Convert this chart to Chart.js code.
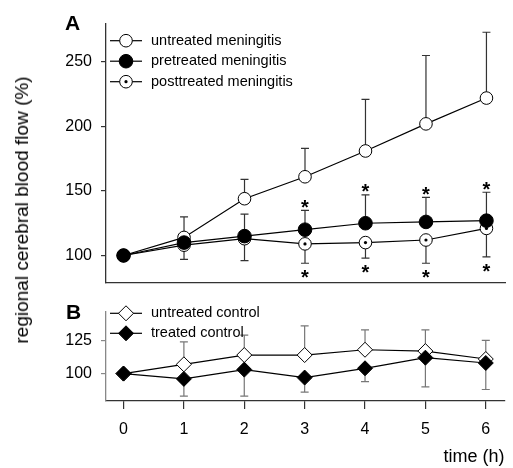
<!DOCTYPE html>
<html>
<head>
<meta charset="utf-8">
<script src="https://cdn.jsdelivr.net/npm/chart.js@4.4.1/dist/chart.umd.min.js"></script>
<style>
  body { margin: 0; background: #fff; }
  #wrap { position: relative; width: 513px; height: 468px; font-family: "Liberation Sans", Arial, sans-serif; color: #000; }
  #chartA { position: absolute; left: 0; top: 0; }
  #chartB { position: absolute; left: 0; top: 290px; }
  .panel { position: absolute; font-weight: bold; font-size: 21px; line-height: 21px; }
  #ytitle { position: absolute; left: 22px; top: 210px; font-size: 19px; white-space: nowrap;
            transform: translate(-50%, -50%) rotate(-90deg); }
</style>
</head>
<body>
<div id="wrap">
  <canvas id="chartA" width="513" height="290"></canvas>
  <canvas id="chartB" width="513" height="178"></canvas>
  <div class="panel" style="left:65px;top:12px;">A</div>
  <div class="panel" style="left:66px;top:301px;">B</div>
  <div id="ytitle">regional cerebral blood flow (%)</div>
</div>
<script>
// time points (h)
const hours = [0, 1, 2, 3, 4, 5, 6];

// panel A - meningitis groups (% of baseline)
const untreated = [100, 114, 144, 161, 181, 202, 222];
const untreatedErrHigh = [null, 130, 159, 183, 221, 255, 273];
const pretreated = [100, 110, 115, 120, 125, 126, 127];
const pretreatedErrHigh = [null, null, 132, 135, 147, 145, 149];
const posttreated = [100, 108, 113, 109, 110, 112, 121];
const posttreatedErrLow = [null, 97, 96, 94, 98, 94, 99];
const significant = [3, 4, 5, 6];

// panel B - controls
const untreatedControl = [100, 107, 114, 114, 118, 117, 111];
const untreatedControlErrHigh = [null, 124, 129, 136, 133, 133, 125];
const treatedControl = [100, 96, 103, 97, 104, 112, 108];
const treatedControlErrLow = [null, 83, 83, 86, 94, 90, 88];

const yTicksA = [100, 150, 200, 250];
const yTicksB = [100, 125];

Chart.defaults.font.family = "'Liberation Sans', Arial, sans-serif";
Chart.defaults.color = '#000';

function pts(values) {
    return values.map((v, i) => ({ x: hours[i], y: v }));
}

function drawMarker(ctx, shape, x, y, r, fill, dot) {
    ctx.save();
    ctx.beginPath();
    if (shape === 'diamond') {
        ctx.moveTo(x - r, y); ctx.lineTo(x, y - r); ctx.lineTo(x + r, y); ctx.lineTo(x, y + r); ctx.closePath();
    } else {
        ctx.arc(x, y, r, 0, Math.PI * 2);
    }
    ctx.fillStyle = fill;
    ctx.fill();
    ctx.lineWidth = 1;
    ctx.strokeStyle = '#000';
    ctx.stroke();
    if (dot) {
        ctx.beginPath();
        ctx.arc(x, y, 1.6, 0, Math.PI * 2);
        ctx.fillStyle = '#000';
        ctx.fill();
    }
    ctx.restore();
}

// error bars: one-sided, drawn under the markers
const errorBars = {
    id: 'errorBars',
    beforeDatasetsDraw(chart) {
        const ctx = chart.ctx, xs = chart.scales.x, ys = chart.scales.y;
        chart.data.datasets.forEach(ds => {
            if (!ds.errEnds) return;
            ctx.save();
            ctx.strokeStyle = ds.errColor;
            ctx.lineWidth = 1.2;
            ds.errEnds.forEach((e, i) => {
                if (e == null) return;
                const px = xs.getPixelForValue(ds.data[i].x);
                const p0 = ys.getPixelForValue(ds.data[i].y);
                const p1 = ys.getPixelForValue(e);
                ctx.beginPath();
                ctx.moveTo(px, p0); ctx.lineTo(px, p1);
                ctx.moveTo(px - 4, p1); ctx.lineTo(px + 4, p1);
                ctx.stroke();
            });
            ctx.restore();
        });
    },
    afterDatasetsDraw(chart) {
        const ctx = chart.ctx, xs = chart.scales.x, ys = chart.scales.y;
        chart.data.datasets.forEach((ds, k) => {
            // centre dot for posttreated circles
            if (ds.centerDot) {
                chart.getDatasetMeta(k).data.forEach(p => {
                    ctx.beginPath();
                    ctx.arc(p.x, p.y, 1.6, 0, Math.PI * 2);
                    ctx.fillStyle = '#000';
                    ctx.fill();
                });
            }
            if (!ds.stars) return;
            ctx.save();
            ctx.font = 'bold 20px "Liberation Sans", Arial, sans-serif';
            ctx.textAlign = 'center';
            ctx.textBaseline = 'alphabetic';
            ctx.fillStyle = '#000';
            significant.forEach(i => {
                const px = xs.getPixelForValue(ds.data[i].x);
                const p1 = ys.getPixelForValue(ds.errEnds[i]);
                const base = ds.stars === 'above' ? p1 + 3.5 : p1 + 21;
                ctx.fillText('*', px, base);
            });
            ctx.restore();
        });
    }
};

// legend with line + marker
const lineLegend = {
    id: 'lineLegend',
    afterDraw(chart, args, opts) {
        const ctx = chart.ctx;
        const left = chart.chartArea.left;
        ctx.save();
        ctx.font = '14.5px "Liberation Sans", Arial, sans-serif';
        ctx.textBaseline = 'middle';
        ctx.fillStyle = '#000';
        chart.data.datasets.forEach((ds, k) => {
            const y = chart.chartArea.top + opts.top + k * opts.step;
            ctx.beginPath();
            ctx.strokeStyle = '#000';
            ctx.lineWidth = 1.2;
            ctx.moveTo(left + 4, y); ctx.lineTo(left + 36, y);
            ctx.stroke();
            drawMarker(ctx, ds.shape, left + 20, y, ds.pointRadius, ds.pointBackgroundColor, ds.centerDot);
            ctx.fillText(ds.label, left + 45, y);
        });
        ctx.restore();
    }
};

function yAxis(min, max, ticks, borderColor) {
    return {
        type: 'linear', min: min, max: max,
        afterBuildTicks: s => { s.ticks = ticks.map(v => ({ value: v })); },
        afterFit: s => { s.width = 106; s.paddingTop = 0; s.paddingBottom = 0; },
        border: { color: borderColor, width: 1.3 },
        grid: { drawOnChartArea: false, tickLength: 5, color: borderColor, lineWidth: 1.2 },
        ticks: { padding: 9, font: { size: 16 }, color: '#000' }
    };
}

function lineSet(label, values, shape, fill, radius, extra) {
    return Object.assign({
        label: label,
        data: pts(values),
        shape: shape,
        borderColor: '#000',
        borderWidth: 1.2,
        pointStyle: shape === 'diamond' ? 'rectRot' : 'circle',
        pointRadius: radius,
        pointBackgroundColor: fill,
        pointBorderColor: '#000',
        pointBorderWidth: 1
    }, extra);
}

new Chart(document.getElementById('chartA').getContext('2d'), {
    type: 'line',
    data: {
        datasets: [
            lineSet('untreated meningitis', untreated, 'circle', '#fff', 6.3,
                { errEnds: untreatedErrHigh, errColor: '#333', order: 1 }),
            lineSet('pretreated meningitis', pretreated, 'circle', '#000', 6.8,
                { errEnds: pretreatedErrHigh, errColor: '#333', stars: 'above', order: 0 }),
            lineSet('posttreated meningitis', posttreated, 'circle', '#fff', 6.3,
                { errEnds: posttreatedErrLow, errColor: '#333', stars: 'below', centerDot: true, order: 2 })
        ]
    },
    options: {
        responsive: false,
        animation: false,
        layout: { padding: { top: 24, bottom: 7, left: 0, right: 0 } },
        plugins: { legend: { display: false }, tooltip: { enabled: false }, lineLegend: { top: 16.7, step: 20.5 } },
        scales: {
            x: {
                type: 'linear', min: -0.29, max: 6.31,
                afterFit: s => { s.height = 0; s.paddingLeft = 0; s.paddingRight = 0; },
                border: { color: '#333', width: 1.3 },
                grid: { display: false },
                ticks: { display: false }
            },
            y: yAxis(79.3, 279.4, yTicksA, '#333')
        }
    },
    plugins: [errorBars, lineLegend]
});

new Chart(document.getElementById('chartB').getContext('2d'), {
    type: 'line',
    data: {
        datasets: [
            lineSet('untreated control', untreatedControl, 'diamond', '#fff', 7.5,
                { errEnds: untreatedControlErrHigh, errColor: '#777', order: 1 }),
            lineSet('treated control', treatedControl, 'diamond', '#000', 7.5,
                { errEnds: treatedControlErrLow, errColor: '#777', order: 0 })
        ]
    },
    options: {
        responsive: false,
        animation: false,
        layout: { padding: { top: 22, bottom: 0, left: 0, right: 0 } },
        plugins: { legend: { display: false }, tooltip: { enabled: false }, lineLegend: { top: 1.3, step: 20 } },
        scales: {
            x: {
                type: 'linear', min: -0.29, max: 6.31,
                afterBuildTicks: s => { s.ticks = hours.map(v => ({ value: v })); },
                afterFit: s => { s.height = 67; s.paddingLeft = 0; s.paddingRight = 0; },
                border: { color: '#333', width: 1.3 },
                grid: { drawOnChartArea: false, tickLength: 8, color: '#333', lineWidth: 1.2 },
                ticks: { padding: 11, font: { size: 16 }, color: '#000' },
                title: { display: true, text: 'time (h)', align: 'end', font: { size: 18 }, color: '#000', padding: { top: 0, bottom: 0 } }
            },
            y: yAxis(79.3, 146.5, yTicksB, '#888')
        }
    },
    plugins: [errorBars, lineLegend]
});
</script>
</body>
</html>
